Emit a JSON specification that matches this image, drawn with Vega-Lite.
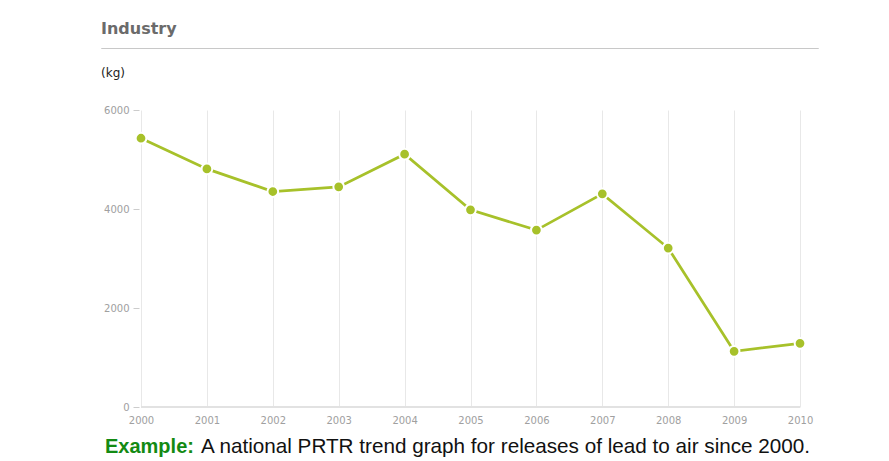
{
  "$schema": "https://vega.github.io/schema/vega-lite/v6.json",
  "padding": {"left": 100, "top": 20, "right": 0, "bottom": 0},
  "background": "white",
  "config": {
    "view": {"stroke": null},
    "title": {"anchor": "start", "baseline": "alphabetic"}
  },
  "bounds": "flush",
  "spacing": 61,
  "vconcat": [
    {
      "width": 717,
      "height": 0.001,
      "view": {"stroke": "#c8c8c8", "strokeWidth": 1},
      "title": {"text": "Industry", "font": "DejaVu Sans", "fontSize": 16, "fontWeight": "bold", "color": "#6b6b6b", "offset": 8},
      "data": {"values": [{}]},
      "mark": {"type": "point", "opacity": 0},
      "encoding": {}
    },
    {
      "width": 717,
      "height": 297,
      "title": {"text": "(kg)", "font": "DejaVu Sans", "fontSize": 12, "fontWeight": "normal", "color": "#222222", "offset": 25},
      "data": {"values": [
        {"year": 2000, "kg": 5430},
        {"year": 2001, "kg": 4810},
        {"year": 2002, "kg": 4353},
        {"year": 2003, "kg": 4447},
        {"year": 2004, "kg": 5107},
        {"year": 2005, "kg": 3983},
        {"year": 2006, "kg": 3574},
        {"year": 2007, "kg": 4306},
        {"year": 2008, "kg": 3211},
        {"year": 2009, "kg": 1125},
        {"year": 2010, "kg": 1287}
      ]},
      "layer": [
        {
          "data": {"values": [{}]},
          "mark": {"type": "rule", "color": "#e2e2e2", "strokeWidth": 2},
          "encoding": {
            "x": {"datum": 2000, "type": "quantitative", "scale": {"domain": [1999.393, 2010.273], "nice": false, "zero": false},
                  "axis": {"title": null, "domain": false, "ticks": false, "grid": true, "gridColor": "#e8e8e8", "gridWidth": 1,
                           "values": [2000, 2000.5, 2001, 2001.5, 2002, 2002.5, 2003, 2003.5, 2004, 2004.5, 2005, 2005.5, 2006, 2006.5, 2007, 2007.5, 2008, 2008.5, 2009, 2009.5, 2010],
                           "labelExpr": "datum.value % 1 === 0 ? format(datum.value, 'd') : ''",
                           "labelFont": "DejaVu Sans", "labelFontSize": 10, "labelColor": "#a0a0a0", "labelPadding": 8, "labelOverlap": false, "labelFlush": false}},
            "x2": {"datum": 2010},
            "y": {"datum": 0, "type": "quantitative", "scale": {"domain": [0, 6000], "nice": false, "zero": true},
                  "axis": {"title": null, "orient": "left", "offset": -38, "domain": false, "grid": false, "ticks": true, "tickSize": 6, "tickColor": "#cccccc", "tickWidth": 1,
                           "values": [0, 2000, 4000, 6000], "format": "d", "labelFont": "DejaVu Sans", "labelFontSize": 10, "labelColor": "#a0a0a0", "labelPadding": 4}}
          }
        },
        {
          "mark": {"type": "line", "color": "#a7c12a", "strokeWidth": 2.75},
          "encoding": {
            "x": {"field": "year", "type": "quantitative"},
            "y": {"field": "kg", "type": "quantitative"}
          }
        },
        {
          "mark": {"type": "point", "filled": true, "color": "#a7c12a", "size": 115, "stroke": "white", "strokeWidth": 2, "opacity": 1},
          "encoding": {
            "x": {"field": "year", "type": "quantitative"},
            "y": {"field": "kg", "type": "quantitative"}
          }
        }
      ]
    },
    {
      "bounds": "flush",
      "spacing": 0,
      "hconcat": [
        {
          "width": 100,
          "height": 0.001,
          "title": {"text": "Example:", "font": "Liberation Sans", "fontSize": 20, "fontWeight": "bold", "color": "#138a13", "offset": 8, "dx": 4},
          "data": {"values": [{}]},
          "mark": {"type": "point", "opacity": 0},
          "encoding": {}
        },
        {
          "width": 617,
          "height": 0.001,
          "title": {"text": "A national PRTR trend graph for releases of lead to air since 2000.", "font": "Liberation Sans", "fontSize": 20.7, "fontWeight": "normal", "color": "#111111", "offset": 8},
          "data": {"values": [{}]},
          "mark": {"type": "point", "opacity": 0},
          "encoding": {}
        }
      ]
    }
  ]
}
